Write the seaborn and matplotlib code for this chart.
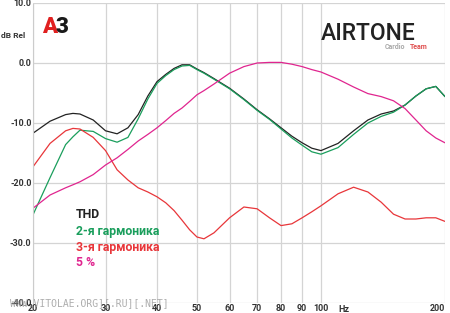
import matplotlib
matplotlib.use("Agg")
import matplotlib.pyplot as plt
import seaborn as sns
import pandas as pd
import numpy as np

freqs = [20, 22, 24, 25, 26, 28, 30, 32, 34, 36, 38, 40, 42, 44, 46, 48, 50, 52, 55,
         60, 65, 70, 75, 80, 85, 90, 95, 100, 110, 120, 130, 140, 150, 160, 170, 180, 190, 200]

thd = [-11.7, -9.7, -8.6, -8.4, -8.5, -9.5, -11.3, -11.8, -10.8, -8.6, -5.5, -3.1, -1.9, -0.9,
       -0.3, -0.3, -1.0, -1.6, -2.6, -4.2, -6.0, -7.8, -9.3, -10.8, -12.2, -13.3, -14.2, -14.6,
       -13.4, -11.3, -9.5, -8.5, -8.0, -7.0, -5.5, -4.3, -3.9, -5.6]
h2 = [-25.3, -19.1, -13.6, -12.3, -11.2, -11.4, -12.6, -13.2, -12.4, -9.3, -6.0, -3.4, -2.1, -1.1,
      -0.5, -0.4, -1.1, -1.7, -2.7, -4.3, -6.1, -7.9, -9.4, -11.0, -12.5, -13.7, -14.8, -15.2,
      -14.1, -11.9, -10.0, -8.9, -8.2, -7.0, -5.5, -4.3, -3.9, -5.6]
h3 = [-17.3, -13.4, -11.3, -10.9, -11.0, -12.4, -14.6, -17.8, -19.5, -20.8, -21.5, -22.3, -23.3,
      -24.6, -26.2, -27.8, -29.0, -29.3, -28.3, -25.8, -24.0, -24.3, -25.8, -27.1, -26.8, -25.8,
      -24.8, -23.8, -21.8, -20.7, -21.5, -23.2, -25.2, -26.0, -26.0, -25.8, -25.8, -26.4]
p5 = [-24.2, -22.0, -20.8, -20.3, -19.8, -18.6, -17.0, -15.8, -14.4, -13.0, -11.9, -10.8, -9.6,
      -8.4, -7.5, -6.4, -5.3, -4.6, -3.5, -1.7, -0.6, 0.0, 0.1, 0.1, -0.2, -0.6, -1.1, -1.5,
      -2.7, -4.0, -5.1, -5.6, -6.3, -7.6, -9.5, -11.3, -12.5, -13.3]

series_names = ["THD", "2-я гармоника", "3-я гармоника", "5 %"]
series_colors = ["#222222", "#1a9e5c", "#e8363a", "#e0258f"]
xticks = [20, 30, 40, 50, 60, 70, 80, 90, 100, 200]
yticks = [-40, -30, -20, -10, 0, 10]

df = pd.concat([
    pd.DataFrame({"freq": freqs, "db": vals, "series": name})
    for name, vals in zip(series_names, [thd, h2, h3, p5])
])

sns.set_style("white")
plt.rcParams["font.family"] = ["Roboto", "DejaVu Sans"]

fig = plt.figure(figsize=(4.5, 3.13), dpi=100)
ax = fig.add_axes([33 / 450, 10 / 313, (445 - 33) / 450, (303 - 3) / 313])

sns.lineplot(data=df, x="freq", y="db", hue="series", palette=dict(zip(series_names, series_colors)),
             linewidth=0.9, ax=ax, legend=False, sort=True)

ax.set_xscale("log")
ax.set_xlim(20, 200)
ax.set_ylim(-40, 10)
ax.set_xticks(xticks)
ax.set_xticklabels([str(t) for t in xticks])
ax.minorticks_off()
ax.set_yticks(yticks)
ax.set_yticklabels([f"{t:.1f}" for t in yticks])
ax.tick_params(axis="both", length=0, labelsize=6.5, colors="#333333", pad=1)
for lab in ax.get_yticklabels() + ax.get_xticklabels():
    lab.set_fontweight("bold")
ax.get_xticklabels()[-1].set_horizontalalignment("right")
ax.set_xlabel("")
ax.set_ylabel("")
ax.grid(True, color="#d4d4d4", linewidth=0.9)
for s in ["top", "right", "bottom"]:
    ax.spines[s].set_visible(False)
ax.spines["left"].set_color("#cccccc")
ax.spines["left"].set_linestyle((0, (2, 1)))
ax.spines["left"].set_linewidth(0.8)

# Hz label
ax.text(114, -40.25, "Hz", fontsize=6.5, fontweight="bold", color="#333333",
        ha="center", va="top", clip_on=False)

# y unit label
fig.text(1 / 450, 1 - 36 / 313, "dB Rel", fontsize=6, fontweight="bold", color="#333333",
         ha="left", va="center")

# legend texts
ly = [214, 231, 247, 263]
for name, col, y in zip(series_names, series_colors, ly):
    fig.text(76 / 450, 1 - y / 313, name, fontsize=8.8, fontweight="bold", color=col,
             ha="left", va="center")

# logos
fig.text(42 / 450, 1 - 27 / 313, "A", fontsize=16, fontweight="black",
         color="#e02020", ha="left", va="center")
fig.text(55 / 450, 1 - 27 / 313, "3", fontsize=16, fontweight="black",
         color="#1a1a1a", ha="left", va="center")
fig.text(321 / 450, 1 - 33 / 313, "AIRTONE", fontsize=16.5, fontweight="medium",
         color="#222222", ha="left", va="center")
fig.text(385 / 450, 1 - 47 / 313, "Cardio", fontsize=5, fontweight="bold",
         color="#aaaaaa", ha="left", va="center")
fig.text(410 / 450, 1 - 47 / 313, "Team", fontsize=5, fontweight="bold",
         color="#e05050", ha="left", va="center")

# watermark
fig.text(10 / 450, 1 - 303 / 313, "WWW.VITOLAE.ORG][.RU][.NET]", fontsize=7,
         color="#999999", alpha=0.8, ha="left", va="center", family="DejaVu Sans Mono")

fig.savefig("out.png", dpi=100)
